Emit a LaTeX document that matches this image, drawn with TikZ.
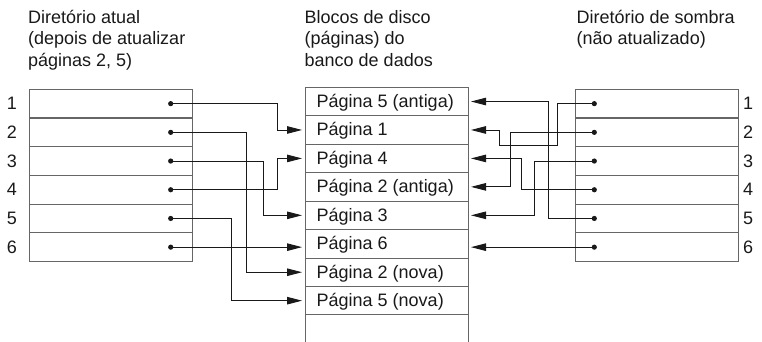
\documentclass[tikz,border=0pt]{standalone}
\usepackage{fontspec}
\setmainfont{Liberation Sans}
\usetikzlibrary{arrows.meta}
\begin{document}
\begin{tikzpicture}[x=1pt,y=-1pt,
  lcell/.style={draw=black!60, line width=1pt, minimum width=163pt, minimum height=28.7pt, inner sep=0pt, outer sep=0pt, anchor=north west},
  mcell/.style={draw=black!60, line width=1pt, minimum width=163pt, minimum height=28.45pt, inner sep=0pt, outer sep=0pt, anchor=north west},
  ptext/.style={font=\fontsize{18}{20}\selectfont, text=black!90, inner sep=0pt, anchor=base west},
  htext/.style={font=\fontsize{18}{20}\selectfont, text=black!90, inner sep=0pt, anchor=base west},
  num/.style={font=\fontsize{18}{20}\selectfont, text=black!90, inner sep=0pt},
  conn/.style={line width=0.9pt, black!90},
  arr/.style={conn, -{Triangle[length=15pt,width=7.5pt]}, shorten >=3pt},
  dot/.style={fill=black!90}
]
\useasboundingbox (0,0) rectangle (762,342);

% headers
\node[htext] (H1a) at (28,23.3) {Diretório atual};
\node[htext] (H1b) at (28,45) {(depois de atualizar};
\node[htext] (H1c) at (28,67) {páginas 2, 5)};
\node[htext] (H2a) at (304.5,23.3) {Blocos de disco};
\node[htext] (H2b) at (304.5,45) {(páginas) do};
\node[htext] (H2c) at (304.5,67) {banco de dados};
\node[htext] (H3a) at (576.5,23.3) {Diretório de sombra};
\node[htext] (H3b) at (576.5,45) {(não atualizado)};

% left and right directories
\foreach \i in {1,...,6} {
  \node[lcell] (L\i) at (29, {89.3+(\i-1)*28.7}) {};
  \node[lcell] (R\i) at (575.5, {89.3+(\i-1)*28.7}) {};
  \coordinate (dL\i) at (170.7, {89.3+(\i-0.5)*28.7});
  \coordinate (dR\i) at (594.3, {89.3+(\i-0.5)*28.7});
  \node[num] (nL\i) at (12, {89.3+(\i-0.5)*28.7}) {\i};
  \node[num] (nR\i) at (748, {89.3+(\i-0.5)*28.7}) {\i};
}

% disk blocks
\foreach \i/\t in {1/Página 5 (antiga),2/Página 1,3/Página 4,4/Página 2 (antiga),5/Página 3,6/Página 6,7/Página 2 (nova),8/Página 5 (nova),9/} {
  \node[mcell] (M\i) at (305, {87.3+(\i-1)*28.45}) {};
  \node[ptext] (T\i) at ([xshift=11.5pt,yshift=-5.8pt]M\i.west) {\t};
}

% left connectors
\draw[arr] (dL1) -| ([xshift=-27.7pt]M2.west) -- (M2.west);
\draw[arr] (dL2) -| ([xshift=-58.3pt]M7.west) -- (M7.west);
\draw[arr] (dL3) -| ([xshift=-41.7pt]M5.west) -- (M5.west);
\draw[arr] (dL4) -| ([xshift=-27.7pt]M3.west) -- (M3.west);
\draw[arr] (dL5) -| ([xshift=-73.3pt]M8.west) -- (M8.west);
\draw[arr] (dL6) -- (M6.west |- dL6);

% right connectors
\draw[arr] (dR1) -| ([xshift=89.7pt,yshift=-15.7pt]M2.east) -| ([xshift=31.3pt]M2.east) -- (M2.east);
\draw[arr] (dR2) -| ([xshift=42pt]M4.east) -- (M4.east);
\draw[arr] (dR3) -| ([xshift=66pt]M5.east) -- (M5.east);
\draw[arr] (dR4) -| ([xshift=53.7pt]M3.east) -- (M3.east);
\draw[arr] (dR5) -| ([xshift=80.3pt]M1.east) -- (M1.east);
\draw[arr] (dR6) -- (M6.east |- dR6);

% dots
\foreach \i in {1,...,6} {
  \fill[dot] (dL\i) circle (2.6pt);
  \fill[dot] (dR\i) circle (2.6pt);
}
\end{tikzpicture}
\end{document}
